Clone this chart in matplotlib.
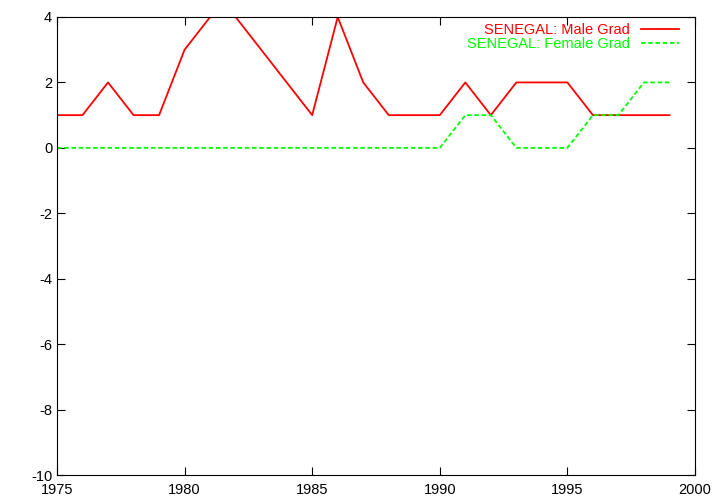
import matplotlib
matplotlib.use("Agg")
import matplotlib.pyplot as plt

years = list(range(1975, 2000))
male = [1, 1, 2, 1, 1, 3, 4, 4, 3, 2, 1, 4, 2, 1, 1, 1, 2, 1, 2, 2, 2, 1, 1, 1, 1]
female = [0, 0, 0, 0, 0, 0, 0, 0, 0, 0, 0, 0, 0, 0, 0, 0, 1, 1, 0, 0, 0, 1, 1, 2, 2]
xticks = [1975, 1980, 1985, 1990, 1995, 2000]
yticks = [-10, -8, -6, -4, -2, 0, 2, 4]

plt.rcParams['font.family'] = ['Liberation Sans', 'DejaVu Sans']
plt.rcParams['axes.unicode_minus'] = False
fig = plt.figure(figsize=(7.2, 5.04), dpi=100)
ax = fig.add_axes([57/720, 1-475/504, (695-57)/720, (475-17)/504])
ax.plot(years, male, color='#ff0000', lw=1.3, label='SENEGAL: Male Grad')
ax.plot(years, female, color='#00ff00', lw=1.3, ls=(0, (2.5, 1.5)), label='SENEGAL: Female Grad')
ax.set_xlim(1975, 2000)
ax.set_ylim(-10, 4)
ax.set_xticks(xticks)
ax.set_yticks(yticks)
ax.tick_params(direction='in', top=True, right=True, length=6, labelsize=10.5, colors='black', width=0.8)
ax.tick_params(axis='x', pad=6)
for s in ax.spines.values():
    s.set_linewidth(0.8)
leg = ax.legend(loc='upper right', frameon=False, markerfirst=False, labelcolor='linecolor',
                handlelength=2.6, fontsize=10.5, borderaxespad=0.0, handletextpad=0.8,
                labelspacing=0.0, bbox_to_anchor=(1 - 10/638, 1 - 0/458))
fig.savefig('out.png', dpi=100)
